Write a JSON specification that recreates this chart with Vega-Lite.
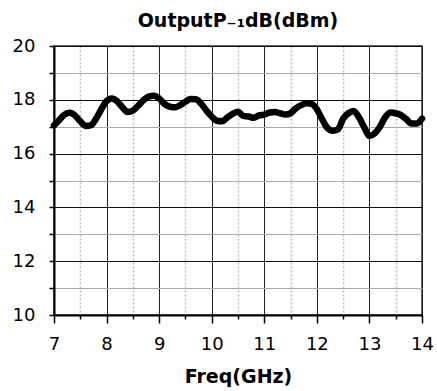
{
  "$schema": "https://vega.github.io/schema/vega-lite/v6.json",
  "width": 368,
  "height": 269,
  "autosize": "none",
  "padding": {"left": 54, "top": 46, "right": 15, "bottom": 76},
  "background": "white",
  "config": {
    "font": "DejaVu Sans",
    "view": {"stroke": "#333", "strokeWidth": 1.5}
  },
  "title": {
    "text": "OutputP₋₁dB(dBm)",
    "font": "DejaVu Sans",
    "fontWeight": "bold",
    "fontSize": 19,
    "color": "black",
    "anchor": "middle",
    "offset": 6
  },
  "data": {
    "values": [
      {"f": 7.0, "p": 17.05}, {"f": 7.1, "p": 17.25}, {"f": 7.2, "p": 17.45}, {"f": 7.3, "p": 17.52},
      {"f": 7.4, "p": 17.42}, {"f": 7.5, "p": 17.2}, {"f": 7.6, "p": 17.03}, {"f": 7.7, "p": 17.05},
      {"f": 7.8, "p": 17.3}, {"f": 7.9, "p": 17.65}, {"f": 8.0, "p": 17.95}, {"f": 8.1, "p": 18.05},
      {"f": 8.2, "p": 17.95}, {"f": 8.3, "p": 17.72}, {"f": 8.4, "p": 17.55}, {"f": 8.5, "p": 17.6},
      {"f": 8.6, "p": 17.78}, {"f": 8.7, "p": 17.98}, {"f": 8.8, "p": 18.12}, {"f": 8.9, "p": 18.15},
      {"f": 9.0, "p": 18.05}, {"f": 9.1, "p": 17.85}, {"f": 9.2, "p": 17.75}, {"f": 9.3, "p": 17.72},
      {"f": 9.4, "p": 17.8}, {"f": 9.5, "p": 17.93}, {"f": 9.6, "p": 18.03}, {"f": 9.7, "p": 18.02},
      {"f": 9.8, "p": 17.85}, {"f": 9.9, "p": 17.6}, {"f": 10.0, "p": 17.38}, {"f": 10.1, "p": 17.22},
      {"f": 10.2, "p": 17.2}, {"f": 10.3, "p": 17.35}, {"f": 10.4, "p": 17.48}, {"f": 10.5, "p": 17.56},
      {"f": 10.6, "p": 17.4}, {"f": 10.7, "p": 17.38}, {"f": 10.8, "p": 17.33}, {"f": 10.9, "p": 17.42},
      {"f": 11.0, "p": 17.45}, {"f": 11.1, "p": 17.53}, {"f": 11.2, "p": 17.55}, {"f": 11.3, "p": 17.5},
      {"f": 11.4, "p": 17.45}, {"f": 11.5, "p": 17.5}, {"f": 11.6, "p": 17.68}, {"f": 11.7, "p": 17.8},
      {"f": 11.8, "p": 17.87}, {"f": 11.9, "p": 17.85}, {"f": 12.0, "p": 17.65}, {"f": 12.1, "p": 17.28},
      {"f": 12.2, "p": 16.95}, {"f": 12.3, "p": 16.85}, {"f": 12.4, "p": 16.9}, {"f": 12.5, "p": 17.3},
      {"f": 12.6, "p": 17.5}, {"f": 12.7, "p": 17.58}, {"f": 12.8, "p": 17.35}, {"f": 12.9, "p": 16.98},
      {"f": 13.0, "p": 16.65}, {"f": 13.1, "p": 16.75}, {"f": 13.2, "p": 17.0}, {"f": 13.3, "p": 17.35},
      {"f": 13.4, "p": 17.53}, {"f": 13.5, "p": 17.5}, {"f": 13.6, "p": 17.43}, {"f": 13.7, "p": 17.28},
      {"f": 13.8, "p": 17.12}, {"f": 13.9, "p": 17.12}, {"f": 14.0, "p": 17.3}
    ]
  },
  "mark": {"type": "line", "color": "black", "strokeWidth": 6.5, "interpolate": "monotone", "strokeCap": "round", "strokeJoin": "round"},
  "encoding": {
    "x": {
      "field": "f",
      "type": "quantitative",
      "scale": {"domain": [7, 14], "nice": false, "zero": false},
      "axis": {
        "title": "Freq(GHz)",
        "titleFont": "DejaVu Sans",
        "titleFontWeight": "bold",
        "titleFontSize": 19,
        "titleColor": "black",
        "titlePadding": 14,
        "values": [7, 7.5, 8, 8.5, 9, 9.5, 10, 10.5, 11, 11.5, 12, 12.5, 13, 13.5, 14],
        "labelExpr": "datum.value % 1 === 0 ? format(datum.value, 'd') : ''",
        "labelFontSize": 18,
        "labelColor": "black",
        "labelPadding": 12,
        "labelFlush": false,
        "labelOverlap": false,
        "domainColor": "black",
        "domainWidth": 2,
        "tickColor": "black",
        "tickWidth": 1.5,
        "tickSize": {"condition": {"test": "datum.value % 1 === 0", "value": 8}, "value": 4},
        "grid": true,
        "gridColor": {"condition": {"test": "datum.value % 1 === 0", "value": "#222"}, "value": "#bbb"},
        "gridDash": {"condition": {"test": "datum.value % 1 === 0", "value": []}, "value": [2, 2]},
        "gridWidth": {"condition": {"test": "datum.value % 1 === 0", "value": 1}, "value": 1.5}
      }
    },
    "y": {
      "field": "p",
      "type": "quantitative",
      "scale": {"domain": [10, 20], "nice": false, "zero": false},
      "axis": {
        "title": null,
        "values": [10, 11, 12, 13, 14, 15, 16, 17, 18, 19, 20],
        "labelExpr": "datum.value % 2 === 0 ? datum.label : ''",
        "labelFontSize": 18,
        "labelColor": "black",
        "labelPadding": 14,
        "labelFlush": false,
        "labelOverlap": false,
        "domainColor": "black",
        "domainWidth": 2,
        "tickColor": "black",
        "tickWidth": 1.5,
        "tickSize": 5,
        "grid": true,
        "gridColor": {"condition": {"test": "datum.value % 2 === 0", "value": "#111"}, "value": "#aaa"},
        "gridWidth": 1
      }
    }
  }
}
